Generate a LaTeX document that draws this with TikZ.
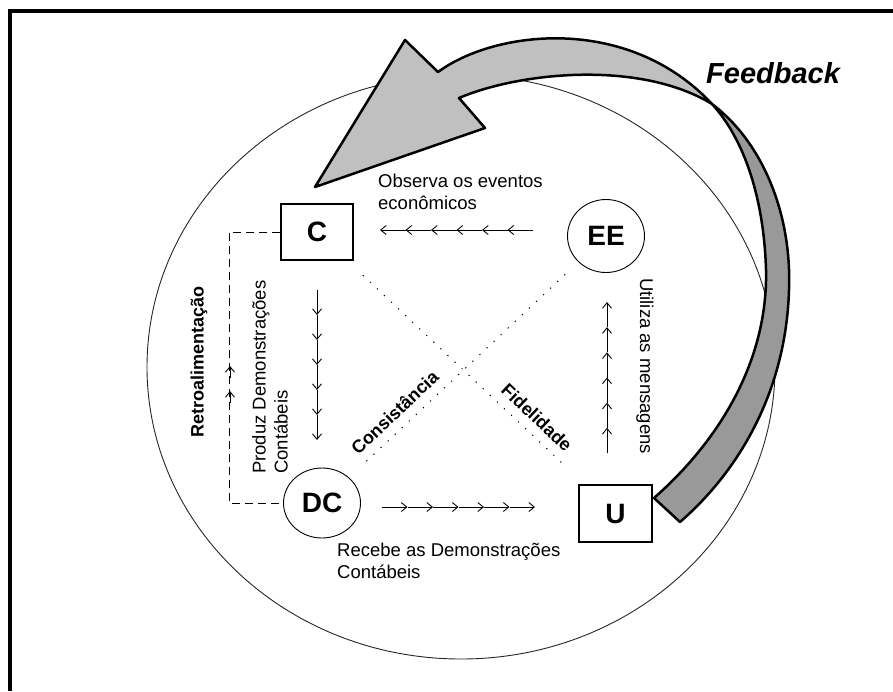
\documentclass[tikz,border=0pt]{standalone}
\usepackage{fontspec}
\setmainfont{Liberation Sans}
\usetikzlibrary{shapes.geometric, calc, arrows.meta}

\definecolor{bandlight}{HTML}{C0C0C0}
\definecolor{banddark}{HTML}{999999}

\begin{document}
\begin{tikzpicture}[x=1pt, y=-1pt]
	\tikzstyle{box}=[rectangle, draw, line width=1.3pt, minimum width=72pt, minimum height=56pt, font=\fontsize{28}{30}\selectfont\bfseries]
	\tikzstyle{agent}=[ellipse, draw, line width=0.9pt, inner sep=0pt, font=\fontsize{28}{30}\selectfont\bfseries]
	\tikzstyle{msgarrow}=[-{Straight Barb[length=5.5pt, width=9pt]}, line width=0.9pt]
	\tikzstyle{msgtext}=[inner sep=0pt, align=left, font=\fontsize{18.5}{22}\selectfont]
	\tikzstyle{bondtext}=[inner sep=0pt, font=\fontsize{18}{20}\selectfont\bfseries]
	\tikzstyle{bond}=[line width=1pt, dash pattern=on 1.2pt off 8.5pt]
	\tikzstyle{retro}=[line width=1pt, dash pattern=on 8pt off 5pt]
	\tikzstyle{band}=[line width=2.5pt, line join=round]

	\useasboundingbox (0,0) rectangle (893,691);
	\draw[line width=4pt] (10,691) -- (10,11) -- (893,11);

	% big circle
	\draw[line width=0.9pt, black!85] (461,367) ellipse [x radius=314pt, y radius=292pt];

	\node[box] (C) at (317,232) {C};
	\node[box, minimum width=73pt, minimum height=57pt] (U) at (615.5,513.5) {U};
	\node[agent, minimum width=77pt, minimum height=73pt] (EE) at (606,236) {EE};
	\node[agent, minimum width=77pt, minimum height=70pt] (DC) at (322,503) {DC};

	% rows of small arrows
	\coordinate (obsA) at (533,230);
	\coordinate (obsB) at (380,230);
	\coordinate (prodA) at (317,290);
	\coordinate (prodB) at (317,440);
	\coordinate (recA) at (382,507);
	\coordinate (recB) at (535,507);
	\coordinate (utiA) at (607,453);
	\coordinate (utiB) at (607,302);
	\foreach \a/\b in {obsA/obsB, prodA/prodB, recA/recB, utiA/utiB}
		\foreach \i in {0,...,5}
			\draw[msgarrow] ($(\a)!{\i/6}!(\b)$) -- ($(\a)!{(\i+1)/6}!(\b)$);

	\node[msgtext, anchor=north west] (obstext) at (378,174) {Observa os eventos\\econômicos};
	\node[msgtext, anchor=north west] (rectext) at (337,543) {Recebe as Demonstrações\\Contábeis};
	\node[msgtext, rotate=90, anchor=north west] (prodtext) at (252,474) {Produz Demonstrações\\Contábeis};
	\node[msgtext, rotate=-90, anchor=west] (utitext) at (645,278) {Utiliza as mensagens};

	% retroalimentacao
	\draw[retro] (C.west) -- ++(-51,0) |- (DC.west);
	\foreach \y in {366,391}
		\draw[msgarrow] (230,\y+12) -- (230,\y);
	\node[bondtext, rotate=90] (retrotext) at (199,362) {Retroalimentação};

	\draw[bond, shorten <=63pt, shorten >=72pt] (C.center) -- (U.center)
		node[bondtext, pos=0.70, sloped, above=9pt] (fid) {Fidelidade};
	\draw[bond, shorten <=61pt, shorten >=54pt] (DC.center) -- (EE.center)
		node[bondtext, pos=0.295, sloped, above=9pt] (cons) {Consistância};

	% feedback arrow
	\filldraw[band, fill=banddark] (712,104) .. controls (760,140) and (792,210) .. (789,290)
		.. controls (786,390) and (740,470) .. (680,522) -- (654,498)
		.. controls (720,440) and (768,360) .. (766,270)
		.. controls (764,200) and (745,140) .. (712,104) -- cycle;
	\filldraw[band, fill=bandlight] (712,104) .. controls (628,14) and (495,30) .. (438,72)
		-- (405,40) -- (315,187) -- (485,128) -- (459,98)
		.. controls (520,72) and (640,60) .. (712,104) -- cycle;
	\node[anchor=base west, inner sep=0pt, font=\fontsize{29}{32}\selectfont\bfseries\itshape] (fb) at (706,83) {Feedback};

\end{tikzpicture}
\end{document}
